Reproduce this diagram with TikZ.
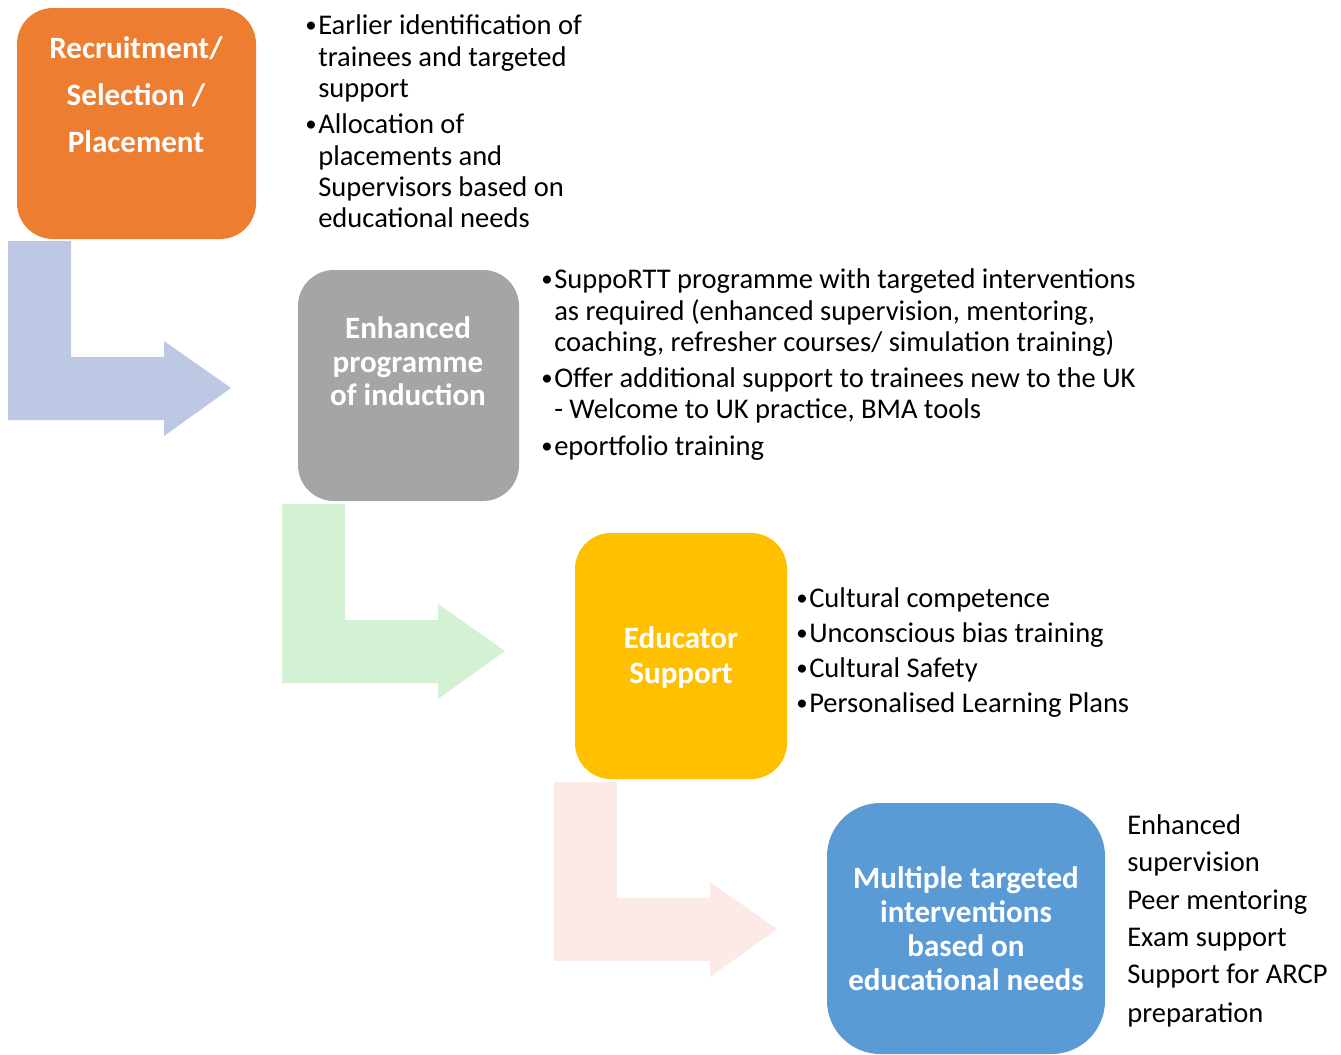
\documentclass[tikz,border=0pt]{standalone}
\usepackage{fontspec}
\setmainfont{Carlito}
\usetikzlibrary{fit}
\definecolor{stageOrange}{HTML}{ED7D31}
\definecolor{stageGray}{HTML}{A5A5A5}
\definecolor{stageGold}{HTML}{FFC000}
\definecolor{stageBlue}{HTML}{5B9BD5}
\definecolor{flowA}{HTML}{BDC8E4}
\definecolor{flowB}{HTML}{D4F1D4}
\definecolor{flowC}{HTML}{FBEAE6}
% small round bullet hung to the left of the text
\newcommand\bul{\llap{\makebox[9.75pt][l]{\raisebox{1.4pt}{\scalebox{0.8}{\textbullet}}}}}
\begin{document}
\begin{tikzpicture}[x=0.75pt,y=-0.75pt,
  stagebox/.style={inner sep=0pt, draw=none, rounded corners=27pt},
  stagelabel/.style={anchor=base, inner sep=0pt, text=white,
    font=\fontsize{23.3}{25}\selectfont\bfseries},
  note/.style={anchor=base west, inner sep=0pt,
    font=\fontsize{21.4}{23}\selectfont},
  pics/bentarrow/.style={code={
    \fill[#1] (0,0) -- (63,0) -- (63,116) -- (156,116) -- (156,100)
      -- (223,147) -- (156,195) -- (156,179) -- (0,179) -- cycle;}}]
\useasboundingbox (0,0) rectangle (1341,1054);
\clip (0,0) rectangle (1341,1054);

% bent flow arrows between the stages
\pic at (8,241) {bentarrow=flowA};
\pic at (282,504) {bentarrow=flowB};
\pic at (554,782) {bentarrow=flowC};

% stage boxes
\node[stagebox, fill=stageOrange, fit={(17,8) (256,239)}] (recruit) {};
\node[stagebox, fill=stageGray, fit={(298,270) (519,501)}] (induction) {};
\node[stagebox, fill=stageGold, fit={(575,533) (787,779)}] (educator) {};
\node[stagebox, fill=stageBlue, rounded corners=40pt, fit={(827,803) (1105,1054)}] (multiple) {};

% stage titles
\node[stagelabel] (recruitT1) at (136,58) {Recruitment/};
\node[stagelabel] (recruitT2) at (136,105) {Selection /};
\node[stagelabel] (recruitT3) at (136,152) {Placement};
\foreach \t/\y [count=\i] in {Enhanced/338, programme/372, of induction/405}
  \node[stagelabel] (inductionT\i) at (408,\y) {\t};
\foreach \t/\y [count=\i] in {Educator/648, Support/683}
  \node[stagelabel] (educatorT\i) at (681,\y) {\t};
\foreach \t/\y [count=\i] in {Multiple targeted/888, interventions/922, based on/956, educational needs/990}
  \node[stagelabel] (multipleT\i) at (966,\y) {\t};

% notes beside each stage
\foreach \t/\y [count=\i] in {{\bul Earlier identification of}/34, {trainees and targeted}/66,
    {support}/97, {\bul Allocation of}/133, {placements and}/165,
    {Supervisors based on}/196, {educational needs}/227}
  \node[note] (recruitN\i) at (318,\y) {\t};
\foreach \t/\y [count=\i] in {{\bul SuppoRTT programme with targeted interventions}/288,
    {as required (enhanced supervision, mentoring,}/320,
    {coaching, refresher courses/ simulation training)}/351,
    {\bul Offer additional support to trainees new to the UK}/387,
    {- Welcome to UK practice, BMA tools}/418,
    {\bul eportfolio training}/455}
  \node[note] (inductionN\i) at (554,\y) {\t};
\foreach \t/\y [count=\i] in {{\bul Cultural competence}/607, {\bul Unconscious bias training}/642,
    {\bul Cultural Safety}/677, {\bul Personalised Learning Plans}/712}
  \node[note] (educatorN\i) at (809,\y) {\t};
\foreach \t/\y [count=\i] in {Enhanced/834, supervision/871, Peer mentoring/909,
    Exam support/946, Support for ARCP/983, preparation/1022}
  \node[note] (multipleN\i) at (1127,\y) {\t};
\end{tikzpicture}
\end{document}
